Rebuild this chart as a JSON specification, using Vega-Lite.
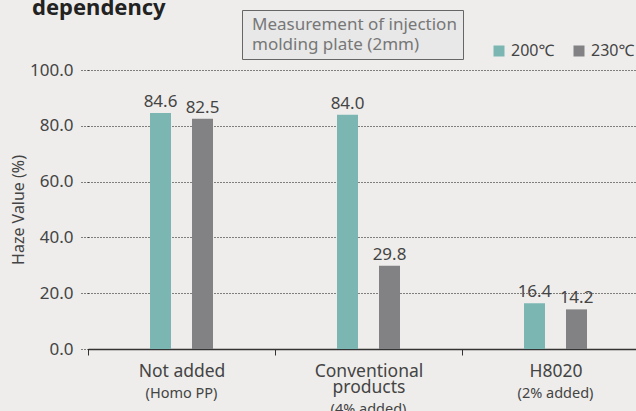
{
  "$schema": "https://vega.github.io/schema/vega-lite/v6.json",
  "width": 546,
  "height": 279,
  "autosize": "none",
  "padding": {"left": 88, "top": 70, "right": 2, "bottom": 62},
  "background": "#eeedeb",
  "config": {
    "font": "Noto Sans",
    "view": {"fill": "white", "stroke": null}
  },
  "title": {
    "text": "dependency",
    "anchor": "start",
    "frame": "group",
    "fontSize": 22,
    "fontWeight": "bold",
    "color": "#222222",
    "baseline": "alphabetic",
    "offset": 0,
    "dy": 27,
    "dx": -56
  },
  "datasets": {
    "haze": [
      {"group": "Not added", "temp": "200℃", "haze": 84.6},
      {"group": "Not added", "temp": "230℃", "haze": 82.5},
      {"group": "Conventional products", "temp": "200℃", "haze": 84.0},
      {"group": "Conventional products", "temp": "230℃", "haze": 29.8},
      {"group": "H8020", "temp": "200℃", "haze": 16.4},
      {"group": "H8020", "temp": "230℃", "haze": 14.2}
    ],
    "notes": [
      {"note": "Measurement of injection"},
      {"note": "molding plate (2mm)"}
    ]
  },
  "layer": [
    {
      "data": {"name": "haze"},
      "mark": {"type": "bar"},
      "encoding": {
        "x": {
          "field": "group", "type": "nominal", "sort": null,
          "scale": {"range": [0, 561], "paddingInner": 0, "paddingOuter": 0},
          "axis": {
            "title": null,
            "labelAngle": 0,
            "domainColor": "#333333",
            "domainWidth": 1.5,
            "tickBand": "extent",
            "tickSize": 6,
            "tickColor": "#333333",
            "labelFontSize": 17.5,
            "labelColor": "#444444",
            "labelLineHeight": 16,
            "labelPadding": 7,
            "labelExpr": "datum.value == 'Conventional products' ? ['Conventional', 'products'] : datum.value"
          }
        },
        "xOffset": {
          "field": "temp", "type": "nominal",
          "scale": {"range": [62, 125], "paddingInner": 0.5, "paddingOuter": 0}
        },
        "y": {
          "field": "haze", "type": "quantitative",
          "scale": {"domain": [0, 100]},
          "axis": {
            "title": "Haze Value (%)",
            "titleFontSize": 16,
            "titleFontWeight": "normal",
            "titleColor": "#444444",
            "titlePadding": 3,
            "values": [0, 20, 40, 60, 80, 100],
            "format": ".1f",
            "labelFontSize": 17,
            "labelColor": "#444444",
            "labelPadding": 8,
            "domain": false,
            "grid": true,
            "gridColor": "#111111",
            "gridDash": [1, 2],
            "tickSize": 7,
            "tickColor": "#111111",
            "tickDash": [1, 2]
          }
        },
        "color": {
          "field": "temp", "type": "nominal",
          "scale": {"range": ["#7bb6b3", "#828285"]},
          "legend": {
            "title": null,
            "orient": "none",
            "direction": "horizontal",
            "legendX": 403,
            "legendY": -27,
            "padding": 0,
            "symbolType": "square",
            "symbolSize": 121,
            "symbolStrokeWidth": 0,
            "labelFontSize": 16,
            "labelColor": "#444444",
            "labelOffset": 4,
            "columnPadding": 16
          }
        }
      }
    },
    {
      "data": {"name": "haze"},
      "mark": {"type": "text", "baseline": "alphabetic", "dy": -6, "fontSize": 17, "color": "#444444"},
      "encoding": {
        "x": {
          "field": "group", "type": "nominal", "sort": null,
          "axis": {
            "orient": "bottom",
            "title": null,
            "labelAngle": 0,
            "domain": false,
            "ticks": false,
            "labelFontSize": 14.5,
            "labelColor": "#444444",
            "labelLineHeight": 16,
            "labelPadding": 37,
            "labelExpr": "datum.value == 'Not added' ? '(Homo PP)' : datum.value == 'H8020' ? '(2% added)' : ['', '(4% added)']"
          }
        },
        "xOffset": {"field": "temp", "type": "nominal"},
        "y": {"field": "haze", "type": "quantitative"},
        "text": {"field": "haze", "type": "quantitative", "format": ".1f"}
      }
    },
    {
      "data": {"name": "notes"},
      "mark": {"type": "point", "opacity": 0},
      "encoding": {
        "shape": {
          "field": "note", "type": "nominal", "sort": null,
          "legend": {
            "title": null,
            "orient": "none",
            "direction": "vertical",
            "legendX": 154,
            "legendY": -60,
            "symbolSize": 0,
            "symbolOpacity": 0,
            "labelOffset": -13,
            "labelLimit": 400,
            "labelFontSize": 17,
            "labelColor": "#777777",
            "rowPadding": 2,
            "padding": 6,
            "fillColor": "#e8e8e8",
            "strokeColor": "#666666",
            "encode": {"legend": {"update": {"strokeWidth": {"value": 2}}}}
          }
        }
      }
    }
  ],
  "resolve": {"axis": {"x": "independent"}}
}
